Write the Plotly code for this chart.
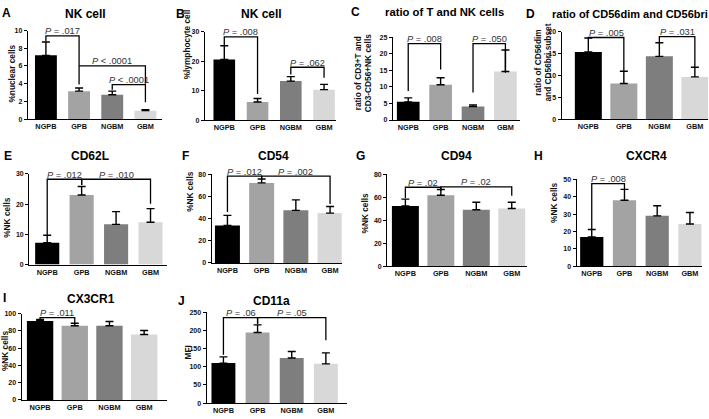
import plotly.graph_objects as go

W, H = 709, 419

groups = ["NGPB", "GPB", "NGBM", "GBM"]
bar_colors = ["#000000", "#a3a3a3", "#7e7e7e", "#d8d8d8"]

letters = ["A", "B", "C", "D", "E", "F", "G", "H", "I", "J"]
titles = ["NK cell", "NK cell", "ratio of T and NK cells", "ratio of CD56dim and CD56bri",
          "CD62L", "CD54", "CD94", "CXCR4", "CX3CR1", "CD11a"]
y_titles = ["%nuclear cells", "%lymphocyte cell",
            "ratio of CD3+T and<br>CD3-CD56+NK cells",
            "ratio of CD56dim<br>and CD56bri subset",
            "%NK cells", "%NK cells", "%NK cells", "%NK cells", "%NK cells", "MFI"]
y_max = [10, 30, 25, 20, 30, 80, 80, 50, 100, 250]
y_step = [2, 10, 5, 5, 10, 20, 20, 10, 20, 50]

# means and upper error (SEM) for NGPB, GPB, NGBM, GBM
means_A = [7.2, 3.15, 2.75, 0.95]
err_A = [1.5, 0.35, 0.4, 0.1]
means_B = [20.6, 6.2, 13.3, 10.4]
err_B = [4.7, 1.2, 1.5, 1.8]
means_C = [5.5, 10.7, 4.1, 14.7]
err_C = [1.2, 2.1, 0.5, 6.5]
means_D = [15.4, 8.2, 14.4, 9.7]
err_D = [3.2, 2.8, 3.1, 2.2]
means_E = [7.2, 23.0, 13.3, 14.0]
err_E = [2.5, 2.8, 4.2, 4.5]
means_F = [33.8, 72.3, 47.5, 45.0]
err_F = [9.2, 3.5, 9.5, 6.0]
means_G = [52.5, 61.8, 49.2, 50.3]
err_G = [6.0, 5.0, 6.5, 5.5]
means_H = [16.8, 38.0, 29.0, 24.3]
err_H = [4.3, 6.2, 5.8, 6.6]
means_I = [91.5, 86.0, 86.0, 76.0]
err_I = [1.8, 3.0, 5.0, 4.5]
means_J = [110, 194, 124, 108]
err_J = [17, 21, 18, 30]

all_means = [means_A, means_B, means_C, means_D, means_E, means_F, means_G, means_H, means_I, means_J]
all_err = [err_A, err_B, err_C, err_D, err_E, err_F, err_G, err_H, err_I, err_J]

# significance brackets: (panel, group i, group j, bracket height, left leg end, right leg end, label)
brackets = [
    (0, 0, 1, 9.4, 8.8, 3.9, "<i>P</i> = .017"),
    (0, 1, 3, 6.0, 6.0, 4.0, "<i>P</i> &lt; .0001"),
    (0, 2, 3, 3.9, 3.3, 1.9, "<i>P</i> &lt; .0001"),
    (1, 0, 1, 28.3, 25.3, 8.9, "<i>P</i> = .008"),
    (1, 2, 3, 18.0, 15.5, 14.4, "<i>P</i> = .062"),
    (2, 0, 1, 23.1, 8.8, 15.3, "<i>P</i> = .008"),
    (2, 2, 3, 23.1, 8.3, 14.3, "<i>P</i> = .050"),
    (3, 0, 1, 18.7, 18.5, 11.0, "<i>P</i> = .005"),
    (3, 2, 3, 18.9, 17.5, 11.9, "<i>P</i> = .031"),
    (4, 0, 1, 28.2, 9.7, 26.3, "<i>P</i> = .012"),
    (4, 1, 3, 28.2, 26.3, 20.1, "<i>P</i> = .010"),
    (5, 0, 1, 78.5, 46.0, 76.0, "<i>P</i> = .012"),
    (5, 1, 3, 78.5, 76.0, 53.3, "<i>P</i> = .002"),
    (6, 0, 1, 68.8, 59.4, 65.7, "<i>P</i> = .02"),
    (6, 1, 3, 69.2, 65.7, 61.4, "<i>P</i> = .02"),
    (7, 0, 1, 47.5, 20.8, 44.3, "<i>P</i> = .008"),
    (8, 0, 1, 95.4, 93.5, 88.5, "<i>P</i> = .011"),
    (9, 0, 1, 234.6, 133.0, 218.0, "<i>P</i> = .06"),
    (9, 1, 3, 234.6, 218.0, 173.0, "<i>P</i> = .05"),
]

# layout geometry (pixels): plot box x0, x1, ytop, ybottom, x-range, bar width
boxes = [
    (28.0, 162.0, 27.0, 117.0, (-0.54, 3.5), 0.66),
    (205.0, 335.7, 28.3, 118.3, (-0.58, 3.35), 0.65),
    (393.0, 520.0, 34.0, 118.0, (-0.47, 3.45), 0.70),
    (561.7, 708.0, 28.3, 117.3, (-0.75, 3.37), 0.76),
    (29.3, 166.7, 172.7, 265.0, (-0.52, 3.47), 0.70),
    (211.7, 341.7, 173.3, 263.3, (-0.46, 3.34), 0.73),
    (387.3, 527.0, 173.3, 266.7, (-0.51, 3.43), 0.76),
    (576.7, 701.7, 178.3, 266.7, (-0.46, 3.36), 0.71),
    (21.7, 166.7, 315.0, 402.7, (-0.53, 3.65), 0.76),
    (206.7, 346.7, 313.3, 406.0, (-0.49, 3.61), 0.70),
]
letter_pos = [(6.7, 9), (180, 10), (355, 8.5), (530, 10), (8.3, 155), (185, 155),
              (360, 155), (538.3, 155), (4, 298.5), (181.7, 301.7)]
title_pos = [(85.8, 10), (261, 10), (444.5, 8.5), (630, 10), (90, 155), (273.3, 155),
             (456.7, 155), (646.7, 155), (90.7, 300), (271.7, 301.7)]
title_size = [12, 12, 11.3, 11, 12, 12, 12, 12, 12, 12]
ytitle_pos = [(11.7, 71), (187, 41), (363.5, 70), (543.5, 60), (6.7, 216.7), (190, 191),
              (365, 213), (553.3, 202), (5, 353), (188.3, 354)]

FONT = "Arial, Liberation Sans, sans-serif"

fig = go.Figure()
annotations = []
shapes = []
layout = {}

for k in range(10):
    xa = "x" if k == 0 else f"x{k+1}"
    ya = "y" if k == 0 else f"y{k+1}"
    x0, x1, yt, yb, xr, bw = boxes[k]
    fig.add_trace(go.Bar(
        x=[0, 1, 2, 3], y=all_means[k], width=bw,
        marker=dict(color=bar_colors, line=dict(width=0)),
        error_y=dict(type="data", array=all_err[k], arrayminus=[0, 0, 0, 0],
                     symmetric=False, color="#000000", thickness=1.4, width=4),
        xaxis=xa, yaxis=ya, showlegend=False, hoverinfo="skip"))
    xkey = "xaxis" if k == 0 else f"xaxis{k+1}"
    ykey = "yaxis" if k == 0 else f"yaxis{k+1}"
    layout[xkey] = dict(
        domain=[x0 / W, x1 / W], range=list(xr), anchor=ya,
        tickmode="array", tickvals=[0, 1, 2, 3], ticktext=groups,
        showline=True, linecolor="#000000", linewidth=1.4, ticks="",
        tickfont=dict(family=FONT, size=7.3, color="#111111", weight="bold"),
        showgrid=False, zeroline=False, fixedrange=True)
    layout[ykey] = dict(
        domain=[1 - yb / H, 1 - yt / H], range=[0, y_max[k]], anchor=xa,
        tick0=0, dtick=y_step[k], ticks="outside", ticklen=3, tickwidth=1,
        tickcolor="#000000", showline=True, linecolor="#000000", linewidth=1.4,
        tickfont=dict(family=FONT, size=7, color="#111111", weight="bold"),
        showgrid=False, zeroline=False, fixedrange=True)
    # panel letter, title, y title
    lx, ly = letter_pos[k]
    annotations.append(dict(text=letters[k], x=lx / W, y=1 - ly / H, xref="paper", yref="paper",
                            xanchor="center", yanchor="middle", showarrow=False,
                            font=dict(family=FONT, size=12, color="#000000", weight="bold")))
    tx, ty = title_pos[k]
    annotations.append(dict(text=titles[k], x=tx / W, y=1 - ty / H, xref="paper", yref="paper",
                            xanchor="center", yanchor="middle", showarrow=False,
                            font=dict(family=FONT, size=title_size[k], color="#000000", weight="bold")))
    vx, vy = ytitle_pos[k]
    annotations.append(dict(text=y_titles[k], x=vx / W, y=1 - vy / H, xref="paper", yref="paper",
                            xanchor="center", yanchor="middle", showarrow=False, textangle=-90,
                            font=dict(family=FONT, size=8.3, color="#111111", weight="bold")))

for (k, i, j, yt_, yl, yr, label) in brackets:
    xa = "x" if k == 0 else f"x{k+1}"
    ya = "y" if k == 0 else f"y{k+1}"
    shapes.append(dict(type="path", xref=xa, yref=ya,
                       path=f"M {i},{yl} L {i},{yt_} L {j},{yt_} L {j},{yr}",
                       line=dict(color="#000000", width=1.3)))
    annotations.append(dict(text=label, x=(i + j) / 2, y=yt_, xref=xa, yref=ya,
                            xanchor="center", yanchor="bottom", yshift=-2.5, showarrow=False,
                            font=dict(family=FONT, size=9.3, color="#333333")))

fig.update_layout(
    width=W, height=H, margin=dict(l=0, r=0, t=0, b=0),
    paper_bgcolor="white", plot_bgcolor="white",
    annotations=annotations, shapes=shapes, bargap=0.3, **layout)

fig.write_html("out.html", config={"displayModeBar": False},
               post_script="document.body.style.margin='0';document.body.style.padding='0';"
                           "document.body.style.overflow='hidden';")
